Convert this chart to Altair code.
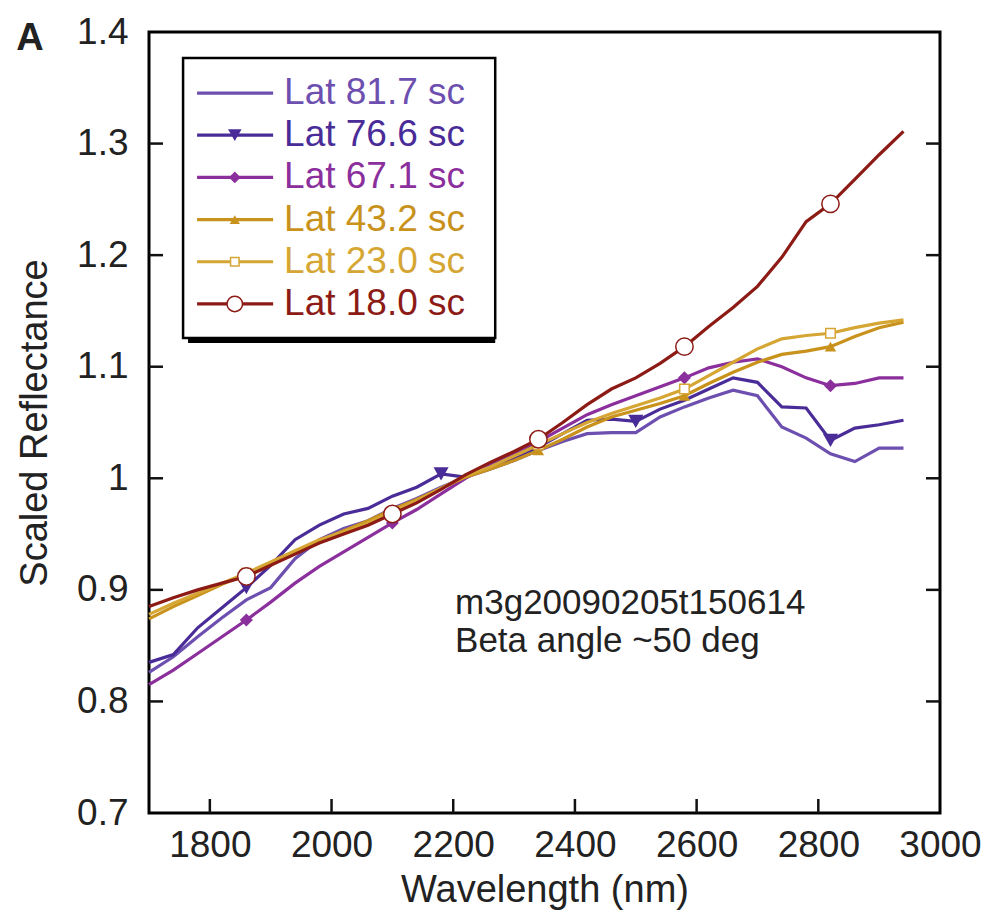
import altair as alt
import pandas as pd

# ---- spectra: scaled reflectance sampled every 40 nm ----
wavelength = list(range(1700, 2941, 40))

lat_81_7 = [0.826, 0.840, 0.858, 0.875, 0.891, 0.902, 0.928, 0.945, 0.955, 0.962,
            0.973, 0.982, 0.992, 1.001, 1.008, 1.016, 1.025, 1.033, 1.040, 1.041,
            1.041, 1.055, 1.064, 1.072, 1.079, 1.074, 1.046, 1.036, 1.022, 1.015,
            1.027, 1.027]
lat_76_6 = [0.835, 0.842, 0.866, 0.884, 0.902, 0.922, 0.945, 0.958, 0.968, 0.973,
            0.984, 0.992, 1.004, 1.001, 1.010, 1.018, 1.028, 1.040, 1.052, 1.053,
            1.051, 1.062, 1.070, 1.080, 1.090, 1.086, 1.064, 1.063, 1.034, 1.045,
            1.048, 1.052]
lat_67_1 = [0.815, 0.828, 0.843, 0.858, 0.873, 0.889, 0.906, 0.921, 0.934, 0.947,
            0.960, 0.972, 0.986, 1.000, 1.012, 1.022, 1.033, 1.045, 1.057, 1.066,
            1.074, 1.082, 1.090, 1.099, 1.104, 1.107, 1.100, 1.090, 1.083, 1.085,
            1.090, 1.090]
lat_43_2 = [0.874, 0.885, 0.895, 0.905, 0.914, 0.924, 0.934, 0.944, 0.953, 0.962,
            0.972, 0.981, 0.991, 1.001, 1.008, 1.016, 1.025, 1.035, 1.046, 1.055,
            1.061, 1.067, 1.074, 1.085, 1.095, 1.104, 1.111, 1.114, 1.118, 1.127,
            1.135, 1.140]
lat_23_0 = [0.878, 0.888, 0.897, 0.906, 0.915, 0.925, 0.935, 0.945, 0.952, 0.960,
            0.970, 0.980, 0.991, 1.002, 1.010, 1.020, 1.030, 1.040, 1.050, 1.058,
            1.065, 1.072, 1.080, 1.092, 1.104, 1.116, 1.125, 1.128, 1.130, 1.135,
            1.139, 1.142]
lat_18_0 = [0.885, 0.893, 0.900, 0.906, 0.912, 0.922, 0.932, 0.942, 0.950, 0.958,
            0.968, 0.978, 0.990, 1.003, 1.014, 1.024, 1.035, 1.050, 1.066, 1.080,
            1.090, 1.103, 1.118, 1.136, 1.153, 1.172, 1.198, 1.230, 1.246, 1.268,
            1.290, 1.311]

series_names = ["Lat 81.7 sc", "Lat 76.6 sc", "Lat 67.1 sc",
                "Lat 43.2 sc", "Lat 23.0 sc", "Lat 18.0 sc"]
series_values = [lat_81_7, lat_76_6, lat_67_1, lat_43_2, lat_23_0, lat_18_0]
series_colors = ["#6d4fb0", "#4a2c98", "#8b2f9c", "#c8921c", "#d6a634", "#8c1b16"]
# symbol drawn on each spectrum (None = plain line) and where it is placed
marker_shapes = [None, "triangle-down", "diamond", "triangle-up", "square", "circle"]
marker_wavelengths = [[], [1860, 2180, 2500, 2820],
                      [1860, 2100, 2340, 2580, 2820],
                      [1860, 2100, 2340, 2580, 2820],
                      [1860, 2100, 2340, 2580, 2820],
                      [1860, 2100, 2340, 2580, 2820]]
marker_sizes = [0, 230, 170, 130, 90, 300]
marker_filled = [True, True, True, True, False, False]

x_ticks = [1800, 2000, 2200, 2400, 2600, 2800, 3000]
y_ticks = [0.7, 0.8, 0.9, 1.0, 1.1, 1.2, 1.3, 1.4]

annotation_lines = ["m3g20090205t150614", "Beta angle ~50 deg"]

# ---- layout ----
X_DOM = [1700, 3000]
Y_DOM = [0.7, 1.4]
W, H = 791, 781
FONT = "Liberation Sans"
TEXT = "#222222"

nm_per_px = (X_DOM[1] - X_DOM[0]) / W
val_per_px = (Y_DOM[1] - Y_DOM[0]) / H


def xenc(field="nm"):
    return alt.X(f"{field}:Q", scale=alt.Scale(domain=X_DOM, nice=False, zero=False),
                 axis=alt.Axis(values=x_ticks, format="d", ticks=False, domain=False,
                               grid=False, labelFontSize=37, labelFont=FONT,
                               labelColor=TEXT, labelPadding=14, labelFlush=False,
                               title="Wavelength (nm)", titleFontSize=38,
                               titleFont=FONT, titleColor=TEXT,
                               titleFontWeight="normal", titlePadding=8))


def yenc(field="val"):
    return alt.Y(f"{field}:Q", scale=alt.Scale(domain=Y_DOM, nice=False, zero=False),
                 axis=alt.Axis(values=y_ticks, ticks=False, domain=False, grid=False,
                               labelExpr="datum.value == 1 ? '1' : format(datum.value, '.1f')",
                               labelFontSize=37, labelFont=FONT, labelColor=TEXT,
                               labelPadding=21, labelFlush=False,
                               title="Scaled Reflectance", titleFontSize=38,
                               titleFont=FONT, titleColor=TEXT,
                               titleFontWeight="normal", titlePadding=22))


layers = []

# inward tick marks on the bottom and right frame edges
tick_len = 14
bottom_ticks = pd.DataFrame({"nm": x_ticks[:-1], "val": Y_DOM[0],
                             "val2": Y_DOM[0] + tick_len * val_per_px})
layers.append(alt.Chart(bottom_ticks).mark_rule(color="#111", strokeWidth=2.5).encode(
    x=xenc(), y=yenc(), y2="val2:Q"))
inner_y = [v for v in y_ticks if Y_DOM[0] < v < Y_DOM[1]]
left_ticks = pd.DataFrame({"nm": X_DOM[0], "nm2": X_DOM[0] + tick_len * nm_per_px,
                           "val": inner_y})
right_ticks = pd.DataFrame({"nm": X_DOM[1] - tick_len * nm_per_px, "nm2": X_DOM[1],
                            "val": inner_y})
for t in (left_ticks, right_ticks):
    layers.append(alt.Chart(t).mark_rule(color="#111", strokeWidth=2.5).encode(
        x=xenc(), x2="nm2:Q", y=yenc()))

# spectra
for name, vals, col in zip(series_names, series_values, series_colors):
    df = pd.DataFrame({"nm": wavelength, "val": vals})
    layers.append(alt.Chart(df).mark_line(color=col, strokeWidth=3.2).encode(
        x=xenc(), y=yenc()))

# symbols along the spectra
for name, vals, col, shp, wls, size, filled in zip(
        series_names, series_values, series_colors, marker_shapes,
        marker_wavelengths, marker_sizes, marker_filled):
    if shp is None:
        continue
    lookup = dict(zip(wavelength, vals))
    df = pd.DataFrame({"nm": wls, "val": [lookup[w] for w in wls]})
    if filled:
        mk = alt.Chart(df).mark_point(shape=shp, size=size, filled=True,
                                      color=col, opacity=1)
    else:
        mk = alt.Chart(df).mark_point(shape=shp, size=size, filled=True,
                                      fill="white", stroke=col, strokeWidth=1.5,
                                      opacity=1)
    layers.append(mk.encode(x=xenc(), y=yenc()))

# legend box with drop shadow
box = pd.DataFrame({"nm": [1756], "nm2": [2269], "val": [1.1257], "val2": [1.3767]})
layers.append(alt.Chart(box).mark_rect(color="black", xOffset=5, yOffset=5).encode(
    x=xenc(), x2="nm2:Q", y=yenc(), y2="val2:Q"))
layers.append(alt.Chart(box).mark_rect(fill="white", stroke="black", strokeWidth=2.5).encode(
    x=xenc(), x2="nm2:Q", y=yenc(), y2="val2:Q"))

row_top, row_step = 1.3453, 0.0378
for i, (name, col, shp, size, filled) in enumerate(
        zip(series_names, series_colors, marker_shapes, marker_sizes, marker_filled)):
    ry = row_top - i * row_step
    seg = pd.DataFrame({"nm": [1779, 1904], "val": [ry, ry]})
    layers.append(alt.Chart(seg).mark_line(color=col, strokeWidth=3.2).encode(
        x=xenc(), y=yenc()))
    if shp is not None:
        pt = pd.DataFrame({"nm": [1841], "val": [ry]})
        if filled:
            mk = alt.Chart(pt).mark_point(shape=shp, size=size * 0.8, filled=True,
                                          color=col, opacity=1)
        else:
            mk = alt.Chart(pt).mark_point(shape=shp, size=size * 0.8, filled=True,
                                          fill="white", stroke=col, strokeWidth=1.5,
                                          opacity=1)
        layers.append(mk.encode(x=xenc(), y=yenc()))
    lab = pd.DataFrame({"nm": [1922], "val": [ry], "label": [name]})
    layers.append(alt.Chart(lab).mark_text(align="left", baseline="middle",
                                           font=FONT, fontSize=37, color=col).encode(
        x=xenc(), y=yenc(), text="label:N"))

# observation note
note = pd.DataFrame({"nm": [2203, 2203], "val": [0.878, 0.844],
                     "label": annotation_lines})
layers.append(alt.Chart(note).mark_text(align="left", baseline="alphabetic",
                                        font=FONT, fontSize=35, color=TEXT).encode(
    x=xenc(), y=yenc(), text="label:N"))

# panel letter
panel = pd.DataFrame({"label": ["A"]})
layers.append(alt.Chart(panel).mark_text(align="center", baseline="middle", font=FONT,
                                         fontSize=38, fontWeight="bold",
                                         color=TEXT).encode(
    x=alt.value(-119), y=alt.value(7), text="label:N"))

chart = alt.layer(*layers).properties(
    width=W, height=H, autosize="none",
    padding={"left": 149, "top": 32, "right": 50, "bottom": 109},
    background="white",
).configure_view(stroke="black", strokeWidth=3)

chart.save("out.html", embed_options={"renderer": "svg", "actions": False})
